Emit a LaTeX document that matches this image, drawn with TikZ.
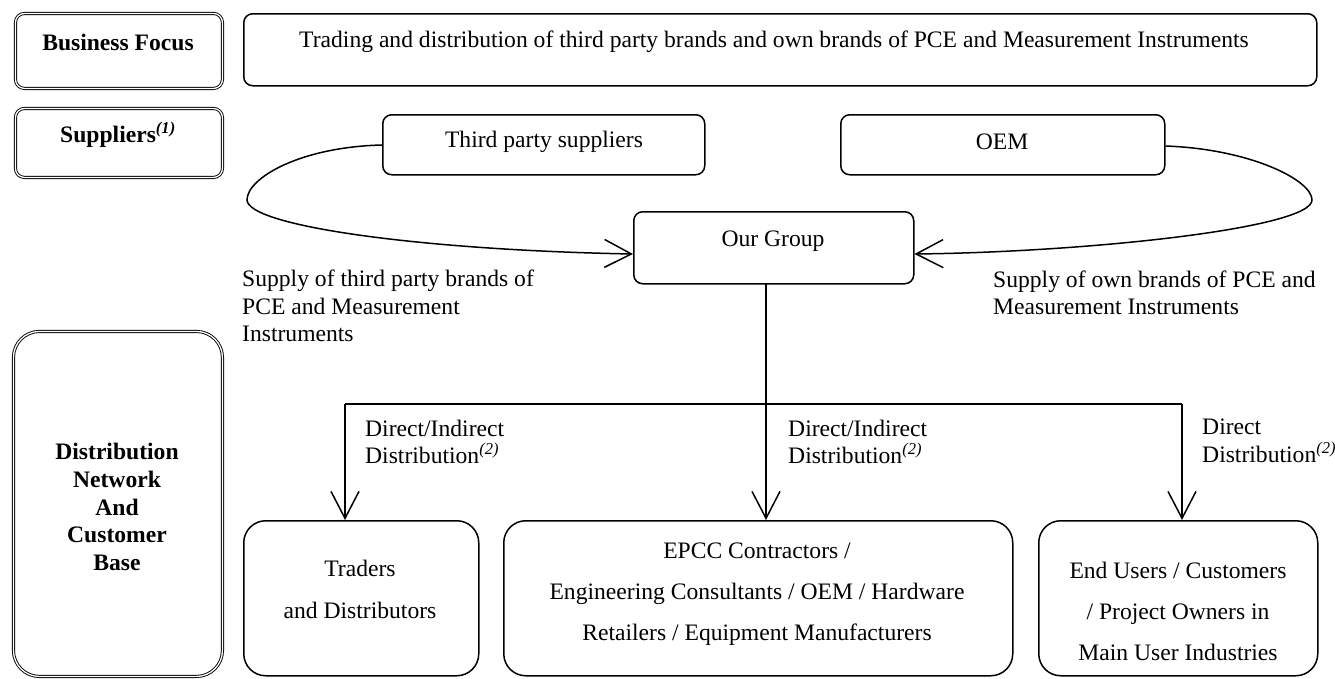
\documentclass[tikz,border=0pt]{standalone}
\usepackage{fontspec}
\setmainfont{Liberation Serif}
\usetikzlibrary{arrows.meta}
\begin{document}
\begin{tikzpicture}[x=1pt,y=-1pt,
  box/.style={draw,line width=1.5pt,rounded corners=9pt,inner sep=0pt},
  bigbox/.style={draw,line width=1.5pt,rounded corners=22pt,inner sep=0pt},
  lbox/.style={draw,line width=0.9pt,double,double distance=1.3pt,rounded corners=9pt,inner sep=0pt},
  txt/.style={inner sep=0pt,align=center,font=\fontsize{23.6}{28}\selectfont},
  btxt/.style={txt,font=\fontsize{23.6}{28}\selectfont\bfseries},
  lbl/.style={inner sep=0pt,align=left,anchor=west,font=\fontsize{23.6}{27.5}\selectfont},
  flow/.style={line width=1.5pt},
  arr/.style={flow,-{Straight Barb[length=27pt,width=28pt,line width=1.5pt]}}]
\useasboundingbox (0,0) rectangle (1335,678);
% left column
\node[lbox,minimum width=207pt,minimum height=75pt,anchor=north west] (bf) at (15,13) {};
\node[btxt] (bft) at (118,42) {Business Focus};
\node[lbox,minimum width=207pt,minimum height=69pt,anchor=north west] (sup) at (15,108) {};
\node[btxt] (supt) at (118,135) {Suppliers\textsuperscript{\itshape(1)}};
\node[lbox,minimum width=209pt,minimum height=345pt,anchor=north west,rounded corners=26pt] (dist) at (13,331) {};
\node[btxt,font=\fontsize{23.6}{27.8}\selectfont\bfseries] (distt) at (117,507) {Distribution\\Network\\And\\Customer\\Base};
% top long box
\node[box,minimum width=1073pt,minimum height=72pt,anchor=north west] (focus) at (243,13) {};
\node[txt] (focust) at (774,42) {Trading and distribution of third party brands and own brands of PCE and Measurement Instruments};
% suppliers
\node[box,minimum width=322pt,minimum height=60pt,anchor=north west] (tps) at (382,114) {};
\node[txt] (tpst) at (544,142) {Third party suppliers};
\node[box,minimum width=324pt,minimum height=60pt,anchor=north west] (oem) at (840,114) {};
\node[txt] (oemt) at (1002,142) {OEM};
% our group
\node[box,minimum width=280pt,minimum height=72pt,anchor=north west] (og) at (633,211) {};
\node[txt] (ogt) at (773,241) {Our Group};
% supply labels
\node[lbl] (sl) at (242,306) {Supply of third party brands of\\PCE and Measurement\\Instruments};
\node[lbl] (sr) at (993,293) {Supply of own brands of PCE and\\Measurement Instruments};
% customers
\node[bigbox,minimum width=235pt,minimum height=155pt,anchor=north west] (trd) at (243,520) {};
\node[txt,font=\fontsize{23.6}{42}\selectfont] (trdt) at (360,589) {Traders\\and Distributors};
\node[bigbox,minimum width=509pt,minimum height=155pt,anchor=north west] (epcc) at (503,520) {};
\node[txt,font=\fontsize{23.6}{41}\selectfont] (epcct) at (757,594) {EPCC Contractors /\\Engineering Consultants / OEM / Hardware\\Retailers / Equipment Manufacturers};
\node[bigbox,minimum width=279pt,minimum height=155pt,anchor=north west] (end) at (1038,520) {};
\node[txt,font=\fontsize{23.6}{41}\selectfont] (endt) at (1178,611) {End Users / Customers\\/ Project Owners in\\Main User Industries};
% distribution labels
\node[lbl] (d1) at (365,442) {Direct/Indirect\\Distribution\textsuperscript{\itshape(2)}};
\node[lbl] (d2) at (788,442) {Direct/Indirect\\Distribution\textsuperscript{\itshape(2)}};
\node[lbl] (d3) at (1202,441) {Direct\\Distribution\textsuperscript{\itshape(2)}};
% coordinates
\coordinate (ogb) at (766,283);
\coordinate (hub) at (766,404);
\coordinate (hl) at (345,404);
\coordinate (hr) at (1182,404);
% supply curves
\draw[arr] (tps.west |- 0,145) .. controls (300,147) and (247,178) .. (247,200)
   .. controls (248,226) and (420,250) .. (og.west |- 0,254);
\draw[arr] (oem.east |- 0,146) .. controls (1250,149) and (1312,180) .. (1312,200)
   .. controls (1312,228) and (1090,252) .. (og.east |- 0,254);
% distribution lines
\draw[flow] (ogb) -- (hub);
\draw[flow] (hl) -- (hr);
\draw[arr] (hl) -- (trd.north -| hl);
\draw[arr] (hub) -- (epcc.north -| hub);
\draw[arr] (hr) -- (end.north -| hr);
\end{tikzpicture}
\end{document}
